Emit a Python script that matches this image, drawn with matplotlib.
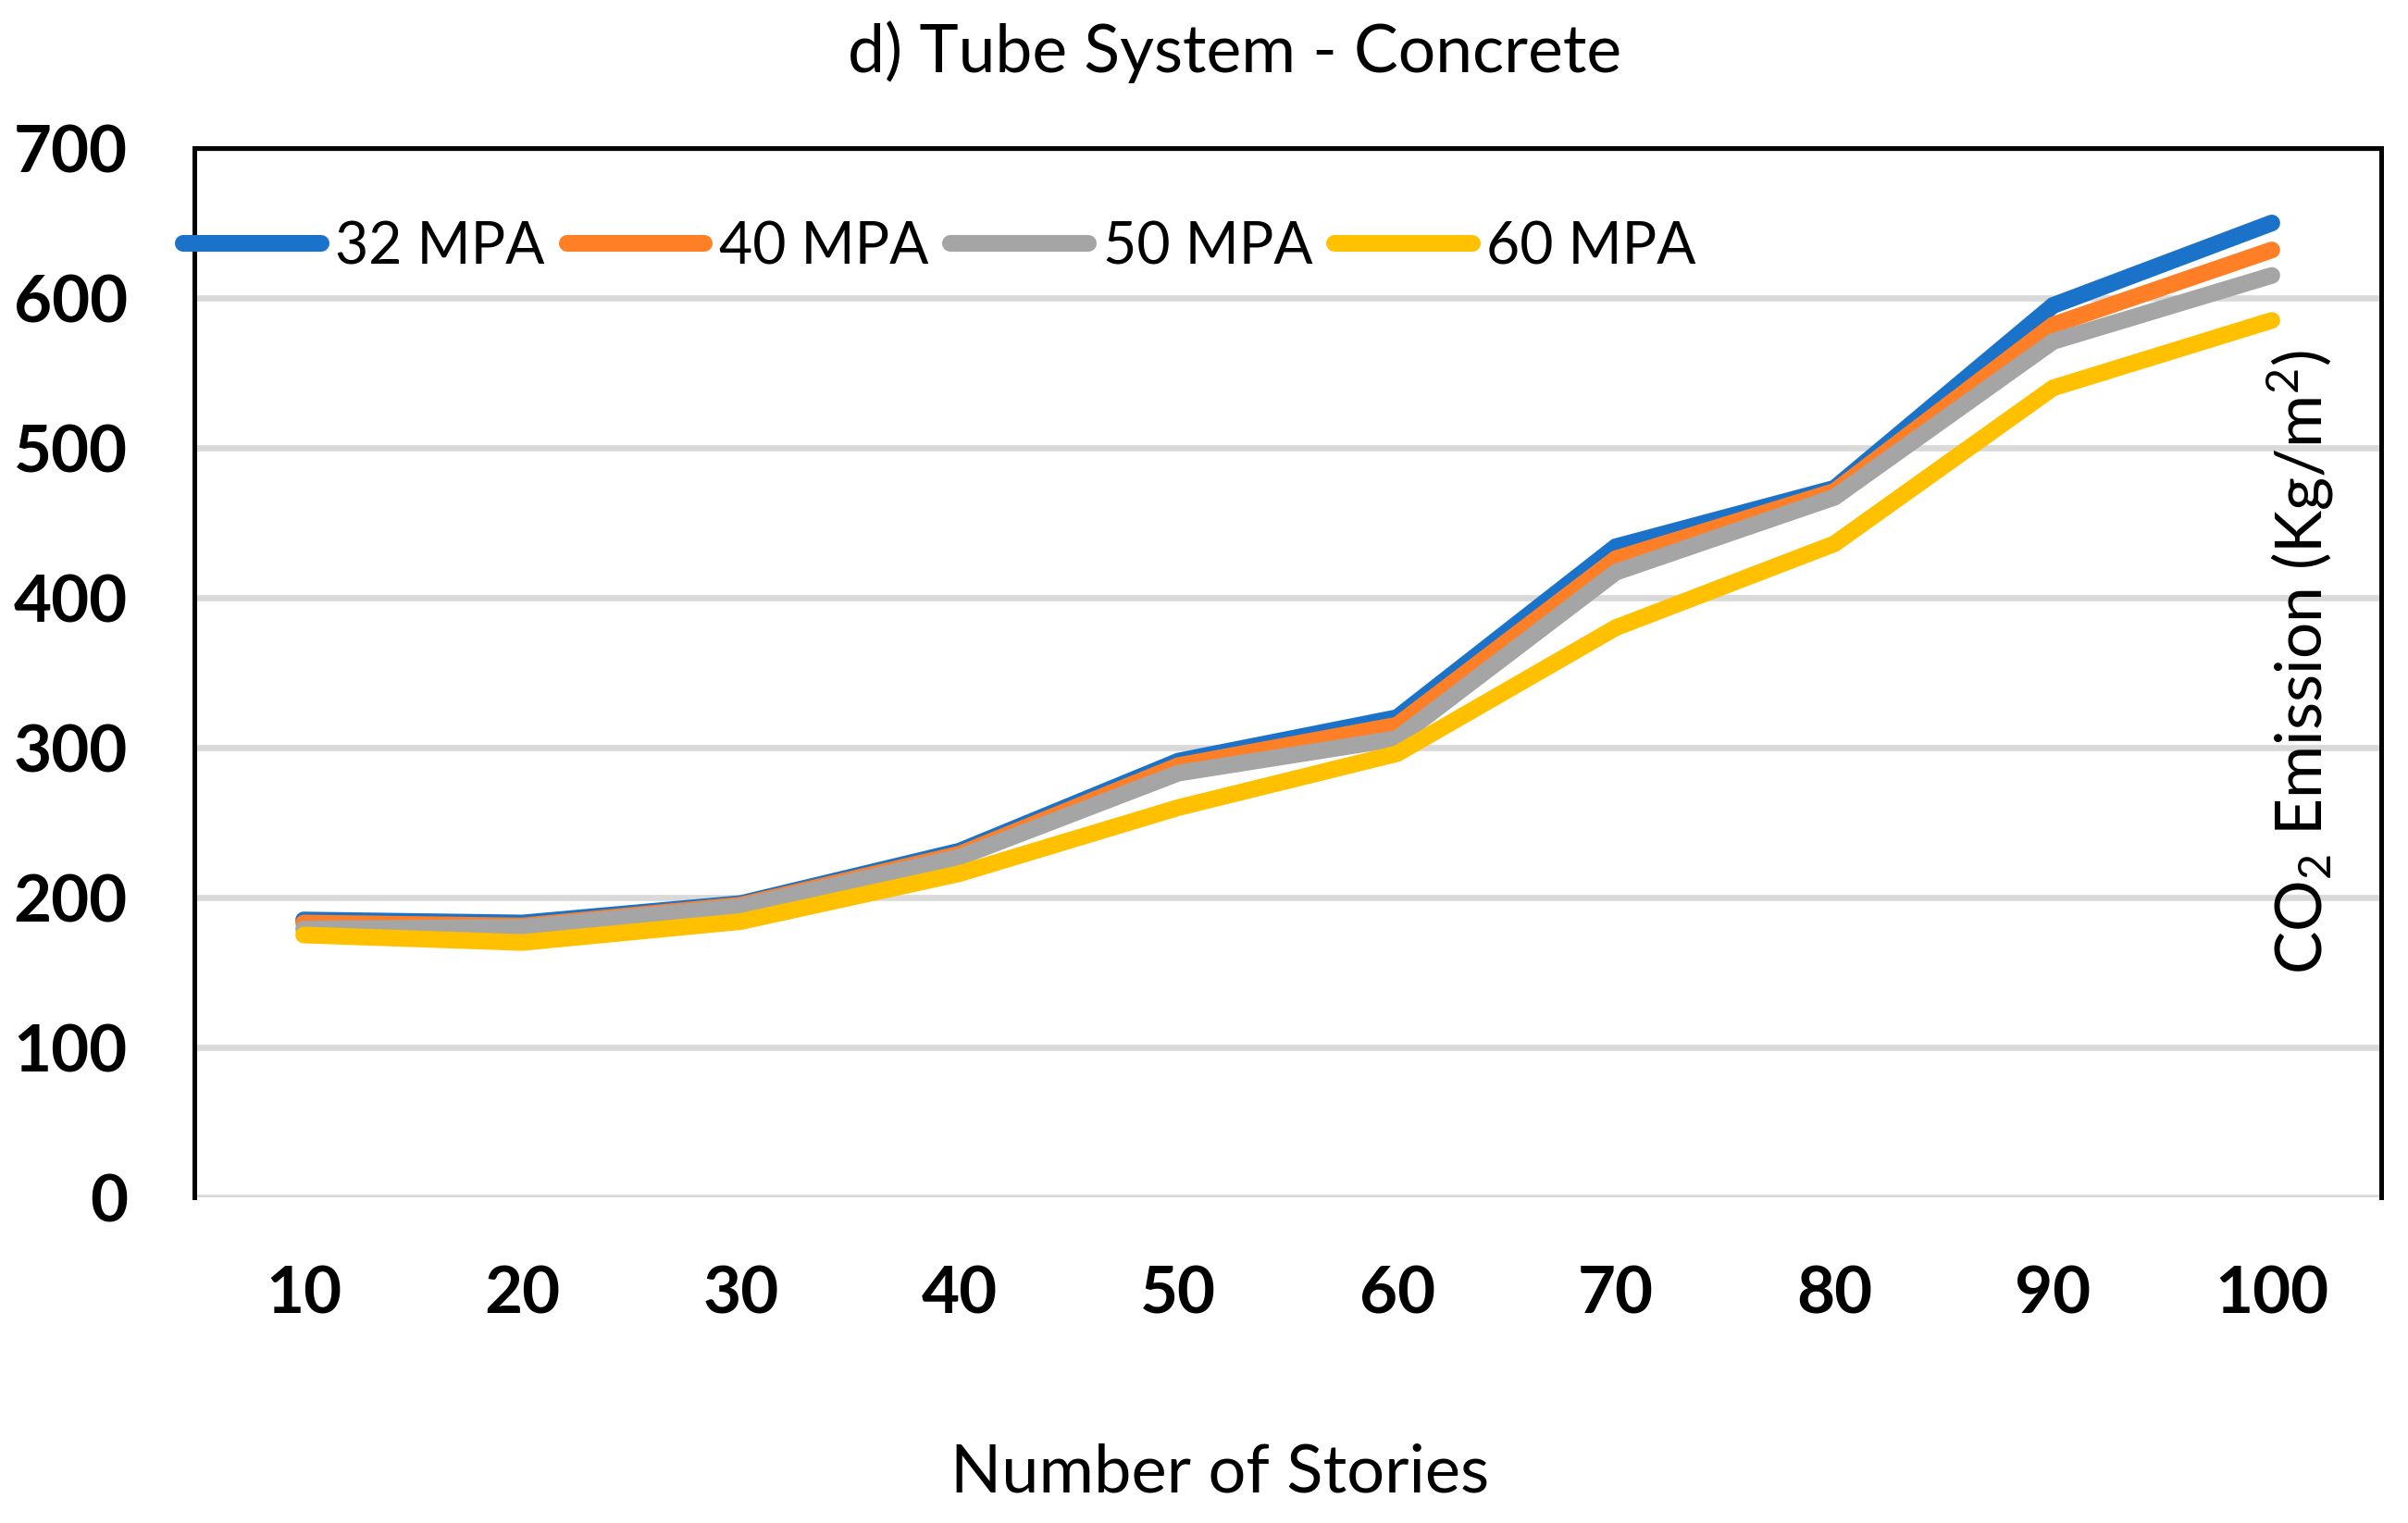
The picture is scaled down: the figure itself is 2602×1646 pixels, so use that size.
import matplotlib
matplotlib.use("Agg")
import matplotlib.pyplot as plt
import numpy as np

plt.rcParams['font.family'] = ['Lato', 'DejaVu Sans']
plt.rcParams['mathtext.fontset'] = 'custom'
plt.rcParams['mathtext.rm'] = 'Lato'
plt.rcParams['mathtext.it'] = 'Lato'

# valores
stories = ['10', '20', '30', '40', '50', '60', '70', '80', '90', '100']
mpa32 = [185, 183, 196, 231, 291, 320, 434, 473, 595, 650]
mpa40 = [183, 181, 195, 229, 288, 315, 426, 471, 582, 632]
mpa50 = [179, 180, 194, 227, 283, 306, 417, 467, 571, 615]
mpa60 = [175, 170, 184, 216, 260, 296, 380, 436, 540, 585]
series_names = ['32 MPA', '40 MPA', '50 MPA', '60 MPA']
colores = ['#1A73C8', '#FF7F27', '#A5A5A5', '#FFC000']
y_ticks = [0, 100, 200, 300, 400, 500, 600, 700]

fig = plt.figure(figsize=(26.02, 16.46), dpi=100)
ax = fig.add_axes([210/2602, 1-1294/1646, 2363/2602, 1134/1646])

x = np.arange(len(stories))
for vals, name, c in zip([mpa32, mpa40, mpa50, mpa60], series_names, colores):
    ax.plot(x, vals, color=c, lw=13, label=name, solid_capstyle='round',
            solid_joinstyle='miter')

ax.set_xlim(-0.5, len(stories)-0.5)
ax.set_ylim(0, 700)
ax.set_yticks(y_ticks)
ax.set_xticks(x)
ax.set_xticklabels(stories)
ax.tick_params(length=0, labelsize=51, pad=52)
for lab in ax.get_xticklabels() + ax.get_yticklabels():
    lab.set_fontweight('bold')

ax.grid(axis='y', color='#D9D9D9', lw=4.8, zorder=0)
ax.set_axisbelow(True)
for s in ['left', 'top', 'right']:
    ax.spines[s].set_linewidth(3.6)
    ax.spines[s].set_color('black')
ax.spines['bottom'].set_visible(False)

ax.text(0.963, 0.510, r'CO$_2$ Emission (Kg/m$^2$)', transform=ax.transAxes,
        rotation=90, ha='center', va='center', fontsize=50)

fig.text(1334/2602, 1-56/1646, 'd) Tube System - Concrete', ha='center',
         va='center', fontsize=51.5)
fig.text(1318/2602, 1-1592/1646, 'Number of Stories', ha='center',
         va='center', fontsize=52)

ax.legend(loc='center left', bbox_to_anchor=(198/2602, 1-267/1646),
          bbox_transform=fig.transFigure, ncol=4, frameon=False,
          fontsize=45, handlelength=2.38, handletextpad=0.25,
          columnspacing=0.38, borderpad=0, borderaxespad=0)

fig.savefig('out.png', dpi=100)
